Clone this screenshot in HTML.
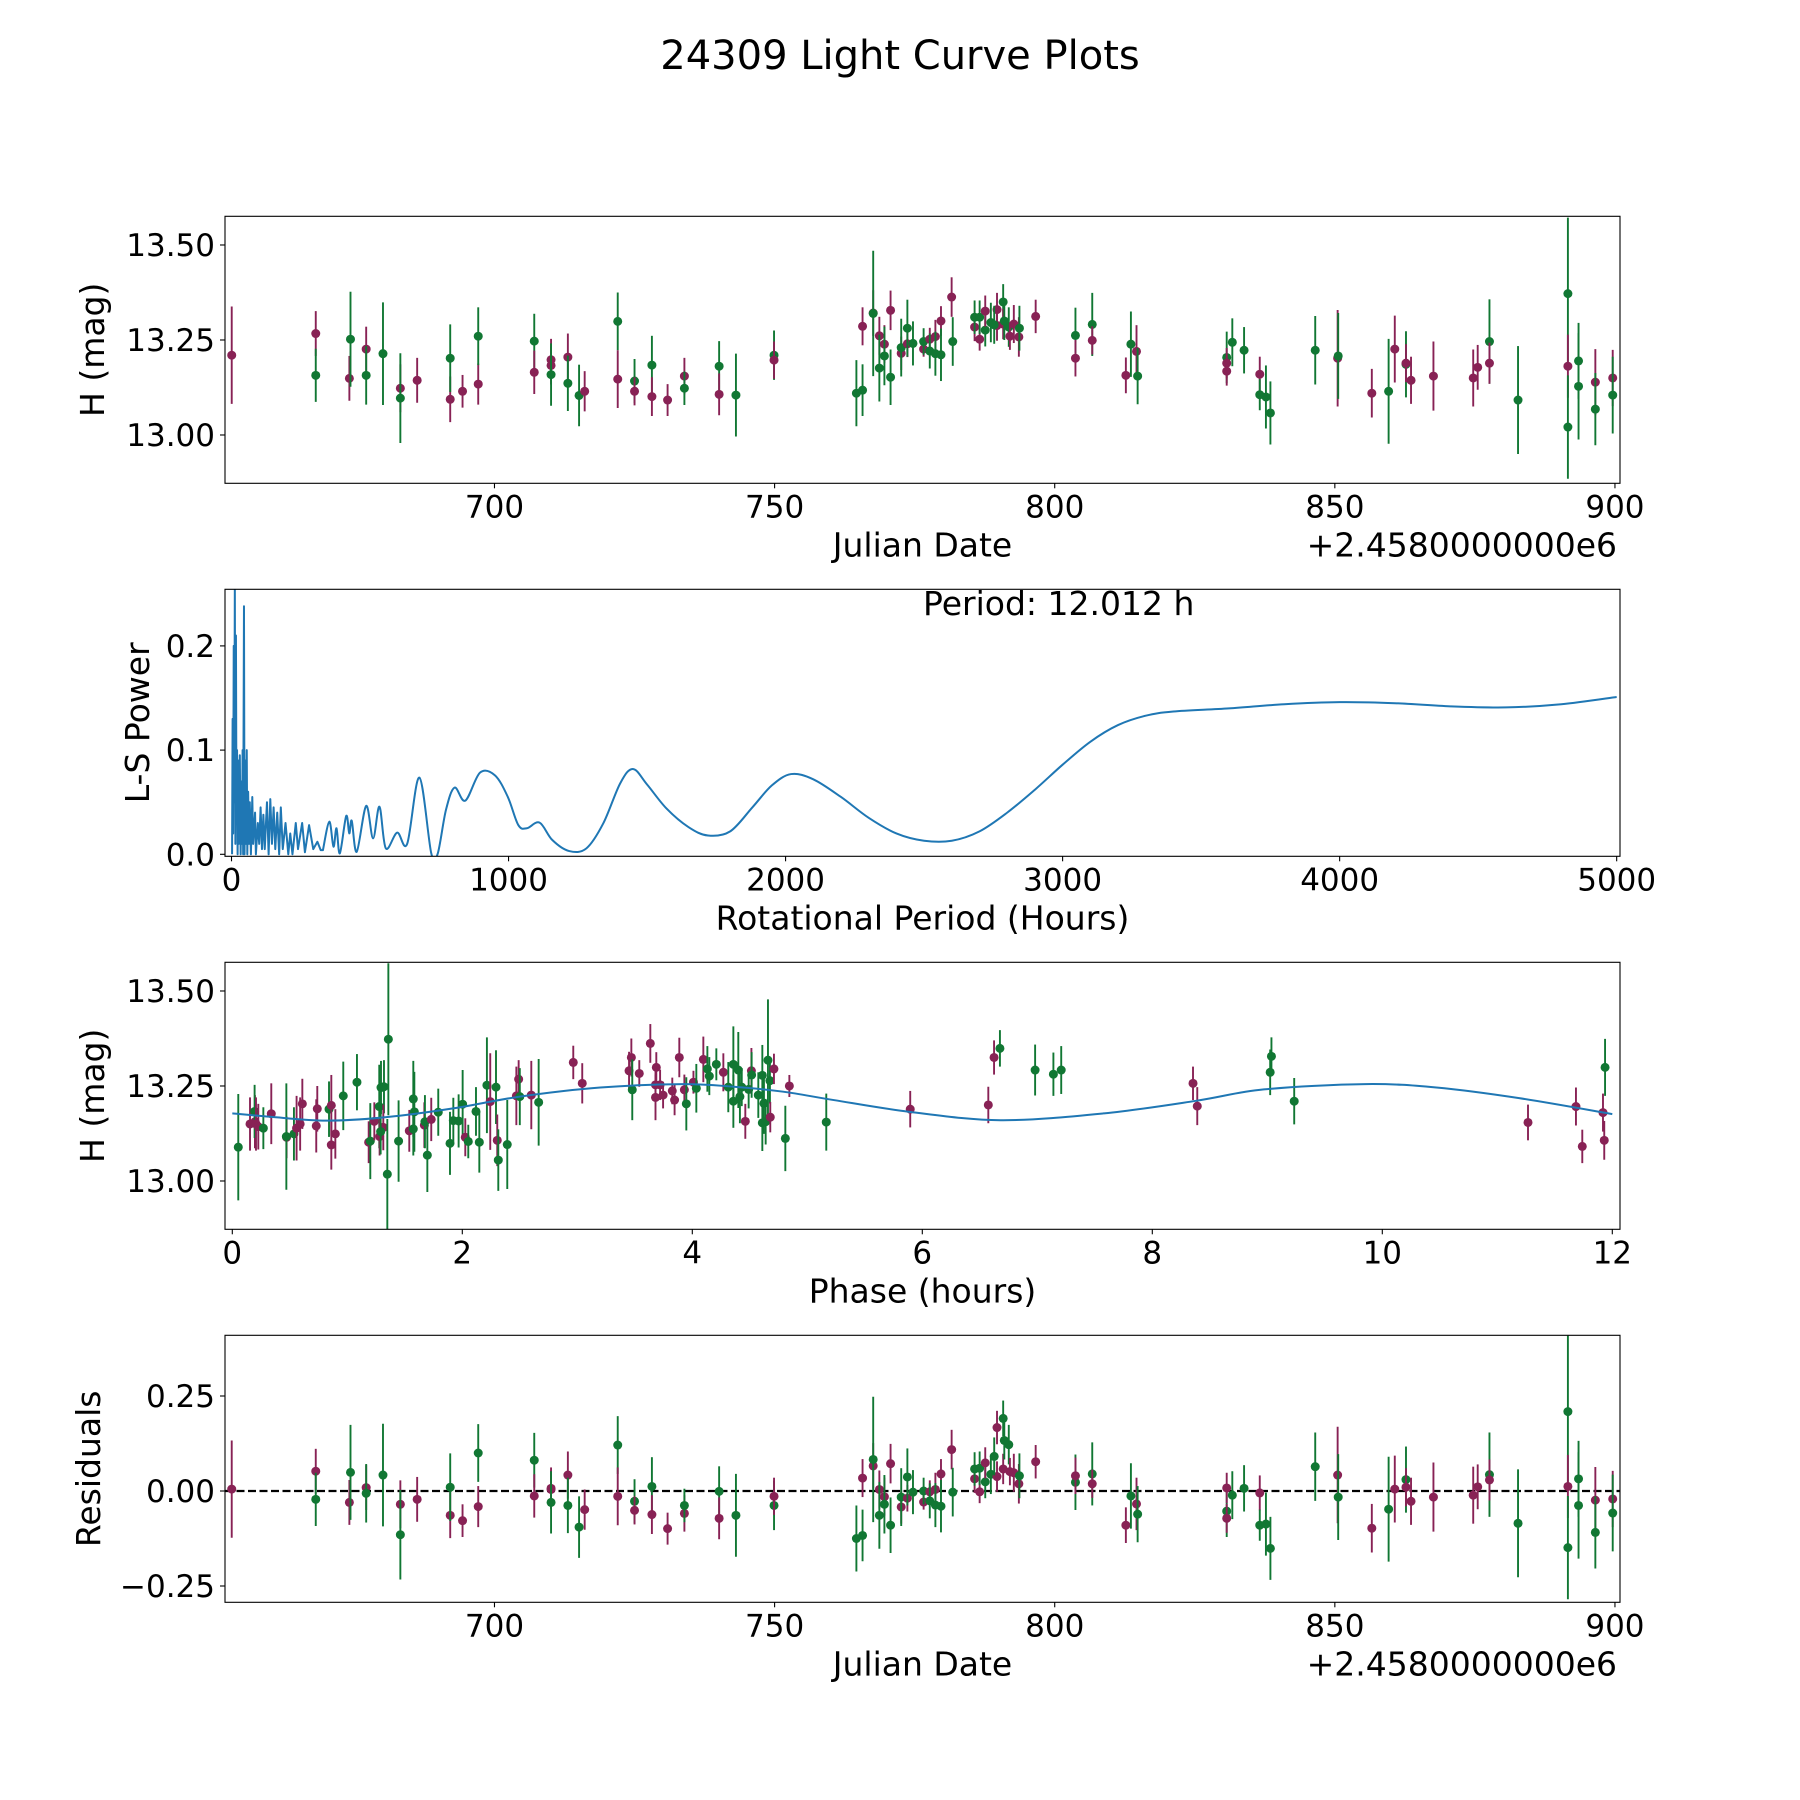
<!DOCTYPE html>
<html><head><meta charset="utf-8"><title>24309 Light Curve Plots</title>
<style>
html,body{margin:0;padding:0;background:#fff;}
svg{display:block;font-family:"DejaVu Sans","Liberation Sans",sans-serif;}
</style></head>
<body>
<svg id="fig" width="1800" height="1800" viewBox="0 0 1800 1800" xmlns="http://www.w3.org/2000/svg">
<rect width="1800" height="1800" fill="#fff"/>
<text x="900" y="69" font-size="40" text-anchor="middle">24309 Light Curve Plots</text>
</svg>
<script>
// ---- Panel 1 / 4 data (dates relative to 2458000) ----
const obsDates = [653.1,668.1,668.1,674.1,674.3,677.1,677.1,680.1,683.2,683.2,686.2,692.1,692.1,694.3,697.1,697.1,707.1,707.1,710.1,710.1,710.1,713.1,713.1,715.1,716.1,722.0,722.0,725.0,725.0,728.1,728.1,730.9,733.9,733.9,740.1,740.1,743.1,749.9,749.9,764.6,765.7,765.7,767.6,767.6,768.7,768.7,769.6,769.6,770.7,770.7,772.6,772.6,773.7,773.7,774.7,776.6,776.6,777.7,777.7,778.7,778.7,779.7,779.7,781.6,781.8,785.7,785.7,786.6,786.6,787.6,787.6,788.6,789.7,789.7,790.8,790.8,791.8,792.0,792.7,793.6,793.7,789.2,791.0,796.6,803.7,803.7,806.7,806.7,812.7,813.6,814.6,814.8,830.7,830.7,830.7,831.7,833.8,836.6,836.6,837.7,838.5,846.5,850.5,850.6,856.6,859.6,860.7,862.7,862.7,863.6,867.6,874.7,875.5,877.6,877.6,882.7,891.6,891.6,891.6,893.5,893.5,896.5,896.5,899.6,899.6];
const obsMags = [13.210,13.267,13.157,13.149,13.252,13.226,13.157,13.214,13.123,13.097,13.144,13.094,13.202,13.115,13.134,13.260,13.247,13.165,13.198,13.183,13.159,13.205,13.136,13.104,13.115,13.299,13.147,13.142,13.115,13.184,13.101,13.092,13.155,13.123,13.181,13.107,13.105,13.210,13.197,13.110,13.118,13.286,13.321,13.320,13.261,13.176,13.239,13.208,13.328,13.152,13.215,13.230,13.240,13.281,13.241,13.226,13.246,13.252,13.221,13.259,13.214,13.300,13.211,13.363,13.246,13.284,13.310,13.252,13.310,13.276,13.326,13.296,13.330,13.288,13.350,13.292,13.284,13.260,13.292,13.258,13.281,13.290,13.300,13.312,13.262,13.202,13.291,13.249,13.157,13.239,13.220,13.155,13.204,13.189,13.168,13.244,13.223,13.160,13.106,13.100,13.058,13.223,13.202,13.208,13.110,13.115,13.226,13.186,13.189,13.144,13.155,13.150,13.178,13.246,13.189,13.092,13.372,13.181,13.021,13.195,13.128,13.139,13.068,13.150,13.105];
const obsErrs = [0.128,0.059,0.070,0.059,0.125,0.059,0.077,0.135,0.063,0.118,0.059,0.060,0.089,0.043,0.054,0.076,0.072,0.057,0.055,0.050,0.082,0.062,0.073,0.081,0.053,0.076,0.076,0.058,0.037,0.077,0.051,0.042,0.048,0.044,0.066,0.055,0.109,0.065,0.049,0.087,0.068,0.050,0.060,0.165,0.050,0.088,0.050,0.077,0.052,0.073,0.044,0.076,0.035,0.075,0.058,0.020,0.035,0.030,0.046,0.044,0.058,0.039,0.069,0.052,0.064,0.037,0.044,0.030,0.044,0.043,0.041,0.052,0.044,0.040,0.047,0.040,0.052,0.036,0.050,0.052,0.059,0.050,0.050,0.044,0.073,0.048,0.083,0.037,0.047,0.086,0.069,0.074,0.068,0.040,0.038,0.063,0.061,0.046,0.041,0.083,0.083,0.090,0.127,0.113,0.064,0.138,0.088,0.087,0.050,0.062,0.091,0.075,0.059,0.111,0.054,0.142,0.200,0.083,0.136,0.100,0.140,0.087,0.095,0.074,0.101];
const obsFilters = ['p','p','g','p','g','p','g','g','p','g','p','p','g','p','p','g','g','p','p','p','g','p','g','g','p','g','p','g','p','g','p','p','p','g','g','p','g','g','p','g','g','p','p','g','p','g','p','g','p','g','p','g','p','g','g','p','g','p','g','p','g','p','g','p','g','p','g','p','g','g','p','g','p','p','g','p','g','p','p','p','g','g','g','p','g','p','g','p','p','g','p','g','g','p','p','g','g','p','g','g','g','g','p','g','p','g','p','g','p','p','p','p','p','g','p','g','g','p','g','g','g','p','g','p','g'];
const residVals = [0.005,0.052,-0.022,-0.030,0.049,0.009,-0.006,0.042,-0.035,-0.115,-0.022,-0.064,0.010,-0.078,-0.041,0.100,0.081,-0.013,0.007,0.004,-0.030,0.042,-0.038,-0.095,-0.049,0.121,-0.014,-0.027,-0.051,0.012,-0.062,-0.099,-0.059,-0.038,-0.001,-0.072,-0.064,-0.038,-0.014,-0.125,-0.117,0.034,0.066,0.083,0.004,-0.064,-0.015,-0.035,0.072,-0.090,-0.042,-0.016,-0.019,0.037,-0.003,-0.029,0.000,-0.002,-0.026,0.004,-0.037,0.045,-0.040,0.109,-0.003,0.032,0.058,-0.002,0.060,0.024,0.074,0.044,0.167,0.038,0.191,0.058,0.122,0.051,0.048,0.019,0.040,0.091,0.133,0.077,0.023,0.040,0.045,0.019,-0.090,-0.013,-0.034,-0.061,-0.053,0.008,-0.072,-0.011,0.007,-0.005,-0.090,-0.087,-0.151,0.064,0.042,-0.016,-0.098,-0.048,0.005,0.030,0.010,-0.027,-0.016,-0.011,0.011,0.043,0.029,-0.085,0.209,0.012,-0.149,0.032,-0.038,-0.024,-0.109,-0.021,-0.058];

// ---- Panel 2: periodogram ----
const lsPeriods = [2,4,6,8,10,12,14,16,18,20,22,24,26,30,33,36,38,40,42,45,47,50,52,55,57,60,63,66,70,75,78,85,88,95,100,105,110,115,120,128,134,140,146,152,158,165,172,178,185,195,205,212,220,232,240,255,265,280,295,310,322,330,353,368,379,391,414,425,434,452,486,511,534,557,598,634,678,721,744,774,805,844,897,951,997,1035,1066,1112,1158,1219,1281,1342,1403,1449,1500,1570,1650,1720,1800,1880,1950,2020,2100,2200,2300,2400,2500,2600,2700,2800,2900,3000,3100,3200,3300,3400,3600,3800,4000,4200,4400,4600,4800,5000];
const lsPowers = [0,0.13,0.02,0.2,0.05,0.26,0.01,0.21,0.03,0.1,0.0,0.09,0.01,0.095,0.0,0.07,0.01,0.1,0.0,0.238,0.0,0.09,0.01,0.1,0.0,0.06,0.01,0.05,0.0,0.055,0.01,0.04,0.0,0.03,0.01,0.045,0.005,0.038,0.005,0.05,0.0,0.053,0.01,0.045,0.005,0.04,0.0,0.045,0.005,0.03,0.0,0.02,0.0,0.03,0.005,0.03,0.002,0.028,0.005,0.012,0.004,0.004,0.0313,0.0073,0.025,0.0009,0.0368,0.0201,0.0322,0.0024,0.0464,0.0153,0.0457,0.0057,0.0208,0.0100,0.0736,0.001,0.0003,0.0425,0.0640,0.0515,0.0784,0.0758,0.0553,0.0282,0.025,0.0304,0.0137,0.0031,0.0057,0.0297,0.0681,0.0819,0.0670,0.0440,0.026,0.018,0.022,0.045,0.066,0.077,0.072,0.055,0.035,0.02,0.013,0.013,0.022,0.04,0.062,0.086,0.108,0.124,0.133,0.137,0.14,0.144,0.146,0.145,0.142,0.141,0.144,0.151];
const periodLabel = "Period: 12.012 h";

// ---- Panel 3: phased data ----
const phPhases = [0.052,0.154,0.197,0.194,0.206,0.226,0.27,0.339,0.472,0.536,0.47,0.559,0.59,0.609,0.73,0.739,0.841,0.861,0.861,0.896,0.965,1.084,1.186,1.2,1.235,1.278,1.293,1.319,1.281,1.313,1.29,1.357,1.348,1.446,1.539,1.574,1.583,1.574,1.67,1.675,1.696,1.73,1.791,1.893,1.922,1.968,2.003,2.026,2.052,2.119,2.148,2.214,2.243,2.293,2.304,2.313,2.391,2.47,2.49,2.5,2.6,2.664,2.965,3.043,
3.45,3.47,3.478,3.539,3.635,3.687,3.68,3.68,3.72,3.746,3.826,3.846,3.887,3.931,3.948,4.01,4.035,4.096,4.131,4.148,4.209,4.27,4.313,4.357,4.357,4.4,4.414,4.43,4.461,4.49,4.514,4.516,4.574,4.609,4.609,4.623,4.638,4.658,4.675,4.678,4.71,4.809,4.844,5.165,5.895,
6.574,6.624,6.675,6.981,7.14,7.208,8.354,8.391,9.036,9.025,9.234,11.267,11.684,11.739,11.919,11.93,11.937];
const phMags = [13.089,13.150,13.156,13.183,13.150,13.143,13.139,13.177,13.115,13.124,13.117,13.139,13.150,13.203,13.145,13.19,13.189,13.199,13.095,13.124,13.224,13.26,13.102,13.105,13.157,13.196,13.246,13.248,13.117,13.141,13.13,13.373,13.018,13.105,13.132,13.216,13.182,13.137,13.147,13.156,13.068,13.162,13.181,13.099,13.159,13.158,13.202,13.115,13.104,13.183,13.102,13.252,13.209,13.247,13.107,13.055,13.096,13.224,13.268,13.222,13.226,13.207,13.312,13.257,
13.290,13.325,13.24,13.283,13.362,13.299,13.253,13.220,13.253,13.226,13.237,13.213,13.325,13.240,13.203,13.26,13.244,13.320,13.295,13.276,13.307,13.286,13.247,13.307,13.21,13.292,13.222,13.247,13.157,13.241,13.29,13.279,13.226,13.278,13.153,13.204,13.156,13.318,13.264,13.168,13.295,13.112,13.25,13.155,13.189,
13.20,13.325,13.349,13.292,13.281,13.292,13.257,13.197,13.328,13.286,13.21,13.154,13.196,13.091,13.18,13.107,13.299];
const phErrs = [0.14,0.07,0.07,0.07,0.07,0.06,0.055,0.08,0.055,0.07,0.14,0.085,0.07,0.066,0.07,0.06,0.073,0.08,0.065,0.065,0.09,0.074,0.055,0.1,0.05,0.11,0.07,0.07,0.05,0.06,0.06,0.2,0.145,0.107,0.055,0.1,0.105,0.07,0.06,0.07,0.097,0.057,0.062,0.083,0.06,0.07,0.09,0.05,0.044,0.064,0.08,0.126,0.127,0.097,0.068,0.081,0.117,0.077,0.05,0.075,0.09,0.114,0.044,0.053,
0.05,0.05,0.08,0.035,0.051,0.04,0.04,0.06,0.04,0.035,0.035,0.04,0.052,0.04,0.07,0.03,0.064,0.06,0.06,0.05,0.042,0.05,0.066,0.1,0.07,0.1,0.07,0.05,0.046,0.05,0.06,0.06,0.06,0.08,0.074,0.08,0.06,0.16,0.06,0.04,0.04,0.086,0.029,0.075,0.048,
0.048,0.045,0.048,0.067,0.057,0.063,0.044,0.05,0.05,0.06,0.061,0.047,0.05,0.044,0.05,0.051,0.075];
const phFilters = ['g','p','p','g','p','p','g','p','p','g','g','p','p','p','p','p','g','p','p','p','g','g','p','g','p','g','g','g','p','p','g','g','g','g','p','g','g','g','p','g','g','p','g','g','g','g','g','p','g','g','g','g','p','g','p','g','g','p','p','g','p','g','p','p',
'p','p','g','p','p','p','p','p','p','p','p','p','p','p','g','p','g','p','g','g','g','p','g','g','g','g','g','g','p','g','p','g','g','g','g','g','g','g','g','p','p','g','p','g','p',
'p','p','g','g','g','g','p','p','g','g','g','p','p','p','p','p','g'];
const fitPhases = [0,0.33,0.82,1.34,1.92,2.5,3.2,3.92,4.36,4.79,5.23,5.89,6.68,7.58,8.38,8.97,9.85,10.47,11.19,12.0];
const fitMags = [13.178,13.169,13.159,13.168,13.191,13.222,13.246,13.255,13.248,13.235,13.213,13.182,13.160,13.178,13.211,13.241,13.255,13.246,13.218,13.176];

// ---- Axes ----
const L = 225, R = 1620, H = 267;
const TOPS = [216.3, 589.3, 962.3, 1335.3];
const dateMin = 651.9, dateMax = 900.9;
const magTop = 13.5755;
const xDate = d => L + (d - dateMin) / (dateMax - dateMin) * (R - L);
const yMag = (m, top) => top + (magTop - m) * 380;
const xPer = p => L + (p + 23.5) / 5035.5 * (R - L);
const yPow = v => 854.3 - v * 1042;
const xPh = ph => 232.3 + ph * 115;
const yRes = r => 1491 - r * 380;
const COL = {p: '#882255', g: '#117733'};

const NS = 'http://www.w3.org/2000/svg';
const svg = document.getElementById('fig');
function mk(tag, attrs, parent) {
  const e = document.createElementNS(NS, tag);
  for (const k in attrs) e.setAttribute(k, attrs[k]);
  (parent || svg).appendChild(e);
  return e;
}
const defs = mk('defs', {});
TOPS.forEach((t, i) => {
  const cp = mk('clipPath', {id: 'clip' + i}, defs);
  mk('rect', {x: L, y: t, width: R - L, height: H}, cp);
});

function frame(i, name) {
  const g = mk('g', {});
  
  
  return g;
}
function box(g, i) {
  const r = mk('rect', {x: L, y: TOPS[i], width: R - L, height: H, fill: 'none', stroke: '#000', 'stroke-width': 1.1}, g);
  
  
}
function xTicks(g, i, vals, labels, fx, name) {
  const yb = TOPS[i] + H;
  vals.forEach((v, k) => {
    const x = fx(v);
    mk('line', {x1: x, x2: x, y1: yb, y2: yb + 5, stroke: '#000', 'stroke-width': 1.1}, g);
    const t = mk('text', {x: x, y: yb + 34, 'font-size': 31, 'text-anchor': 'middle'}, g);
    t.textContent = labels[k];
    
    
  });
}
function yTicks(g, vals, labels, fy, name) {
  vals.forEach((v, k) => {
    const y = fy(v);
    mk('line', {x1: L - 5, x2: L, y1: y, y2: y, stroke: '#000', 'stroke-width': 1.1}, g);
    const t = mk('text', {x: L - 10, y: y + 11, 'font-size': 31, 'text-anchor': 'end'}, g);
    t.textContent = labels[k];
    
    
  });
}
function xLabel(g, i, txt, name) {
  const t = mk('text', {x: (L + R) / 2, y: TOPS[i] + H + 73, 'font-size': 33, 'text-anchor': 'middle'}, g);
  t.textContent = txt;
  
  
}
function yLabel(g, i, txt, xb, name) {
  const cy = TOPS[i] + H / 2;
  const t = mk('text', {x: xb, y: cy, 'font-size': 33, 'text-anchor': 'middle', transform: `rotate(-90 ${xb} ${cy})`}, g);
  t.textContent = txt;
  
  
}
function offsetText(g, i) {
  const t = mk('text', {x: R - 3, y: TOPS[i] + H + 73, 'font-size': 33, 'text-anchor': 'end'}, g);
  t.textContent = '+2.4580000000e6';
  
  
}
function errPoint(g, x, y, y1, y2, col, name) {
  const pg = mk('g', {}, g);
  
  
  mk('line', {x1: x, x2: x, y1: y1, y2: y2, stroke: col, 'stroke-width': 1.9}, pg);
  mk('circle', {cx: x, cy: y, r: 4.5, fill: col}, pg);
}
function smoothPath(pts) {
  let d = `M${pts[0][0].toFixed(2)},${pts[0][1].toFixed(2)}`;
  for (let i = 0; i < pts.length - 1; i++) {
    const p0 = pts[Math.max(0, i - 1)], p1 = pts[i], p2 = pts[i + 1], p3 = pts[Math.min(pts.length - 1, i + 2)];
    const c1x = p1[0] + (p2[0] - p0[0]) / 6, c1y = p1[1] + (p2[1] - p0[1]) / 6;
    const c2x = p2[0] - (p3[0] - p1[0]) / 6, c2y = p2[1] - (p3[1] - p1[1]) / 6;
    d += ` C${c1x.toFixed(2)},${c1y.toFixed(2)} ${c2x.toFixed(2)},${c2y.toFixed(2)} ${p2[0].toFixed(2)},${p2[1].toFixed(2)}`;
  }
  return d;
}

// ---- Panel 1 ----
const g1 = frame(0, 'raw-light-curve-panel');
const d1 = mk('g', {'clip-path': 'url(#clip0)'}, g1);
obsDates.forEach((d, k) => {
  const x = xDate(d), m = obsMags[k], e = obsErrs[k];
  errPoint(d1, x, yMag(m, TOPS[0]), yMag(m + e, TOPS[0]), yMag(m - e, TOPS[0]), COL[obsFilters[k]], 'observation-point');
});
box(g1, 0);
xTicks(g1, 0, [700, 750, 800, 850, 900], ['700', '750', '800', '850', '900'], xDate, 'x-axis');
yTicks(g1, [13.0, 13.25, 13.5], ['13.00', '13.25', '13.50'], v => yMag(v, TOPS[0]), 'y-axis');
xLabel(g1, 0, 'Julian Date', 'x-axis-title');
offsetText(g1, 0);
yLabel(g1, 0, 'H (mag)', 104, 'y-axis-title');

// ---- Panel 2 ----
const g2 = frame(1, 'periodogram-panel');
const d2 = mk('g', {'clip-path': 'url(#clip1)'}, g2);
const lsPts = lsPeriods.map((p, k) => [xPer(p), yPow(lsPowers[k])]);
let lsD = 'M' + lsPts.map(p => p[0].toFixed(2) + ',' + p[1].toFixed(2)).slice(0, 62).join(' L');
lsD += ' ' + smoothPath(lsPts.slice(61)).replace(/^M/, 'L');
const lsLine = mk('path', {d: lsD, fill: 'none', stroke: '#1f77b4', 'stroke-width': 2, 'stroke-linejoin': 'round'}, d2);


box(g2, 1);
xTicks(g2, 1, [0, 1000, 2000, 3000, 4000, 5000], ['0', '1000', '2000', '3000', '4000', '5000'], xPer, 'x-axis');
yTicks(g2, [0, 0.1, 0.2], ['0.0', '0.1', '0.2'], yPow, 'y-axis');
xLabel(g2, 1, 'Rotational Period (Hours)', 'x-axis-title');
yLabel(g2, 1, 'L-S Power', 149, 'y-axis-title');
const pt = mk('text', {x: 923, y: 615, 'font-size': 33}, g2);
pt.textContent = periodLabel;



// ---- Panel 3 ----
const g3 = frame(2, 'phased-light-curve-panel');
const d3 = mk('g', {'clip-path': 'url(#clip2)'}, g3);
phPhases.forEach((ph, k) => {
  const x = xPh(ph), m = phMags[k], e = phErrs[k];
  errPoint(d3, x, yMag(m, TOPS[2]), yMag(m + e, TOPS[2]), yMag(m - e, TOPS[2]), COL[phFilters[k]], 'phased-point');
});
const fitPts = fitPhases.map((p, k) => [xPh(p), yMag(fitMags[k], TOPS[2])]);
const fit = mk('path', {d: smoothPath(fitPts), fill: 'none', stroke: '#1f77b4', 'stroke-width': 2}, d3);


box(g3, 2);
xTicks(g3, 2, [0, 2, 4, 6, 8, 10, 12], ['0', '2', '4', '6', '8', '10', '12'], xPh, 'x-axis');
yTicks(g3, [13.0, 13.25, 13.5], ['13.00', '13.25', '13.50'], v => yMag(v, TOPS[2]), 'y-axis');
xLabel(g3, 2, 'Phase (hours)', 'x-axis-title');
yLabel(g3, 2, 'H (mag)', 104, 'y-axis-title');

// ---- Panel 4 ----
const g4 = frame(3, 'residuals-panel');
const d4 = mk('g', {'clip-path': 'url(#clip3)'}, g4);
const zl = mk('line', {x1: L, x2: R, y1: yRes(0), y2: yRes(0), stroke: '#000', 'stroke-width': 2.2, 'stroke-dasharray': '8,3.5'}, d4);


obsDates.forEach((d, k) => {
  const x = xDate(d), r = residVals[k], e = obsErrs[k];
  errPoint(d4, x, yRes(r), yRes(r + e), yRes(r - e), COL[obsFilters[k]], 'residual-point');
});
box(g4, 3);
xTicks(g4, 3, [700, 750, 800, 850, 900], ['700', '750', '800', '850', '900'], xDate, 'x-axis');
yTicks(g4, [-0.25, 0, 0.25], ['\u22120.25', '0.00', '0.25'], yRes, 'y-axis');
xLabel(g4, 3, 'Julian Date', 'x-axis-title');
offsetText(g4, 3);
yLabel(g4, 3, 'Residuals', 100, 'y-axis-title');
</script>
</body></html>
